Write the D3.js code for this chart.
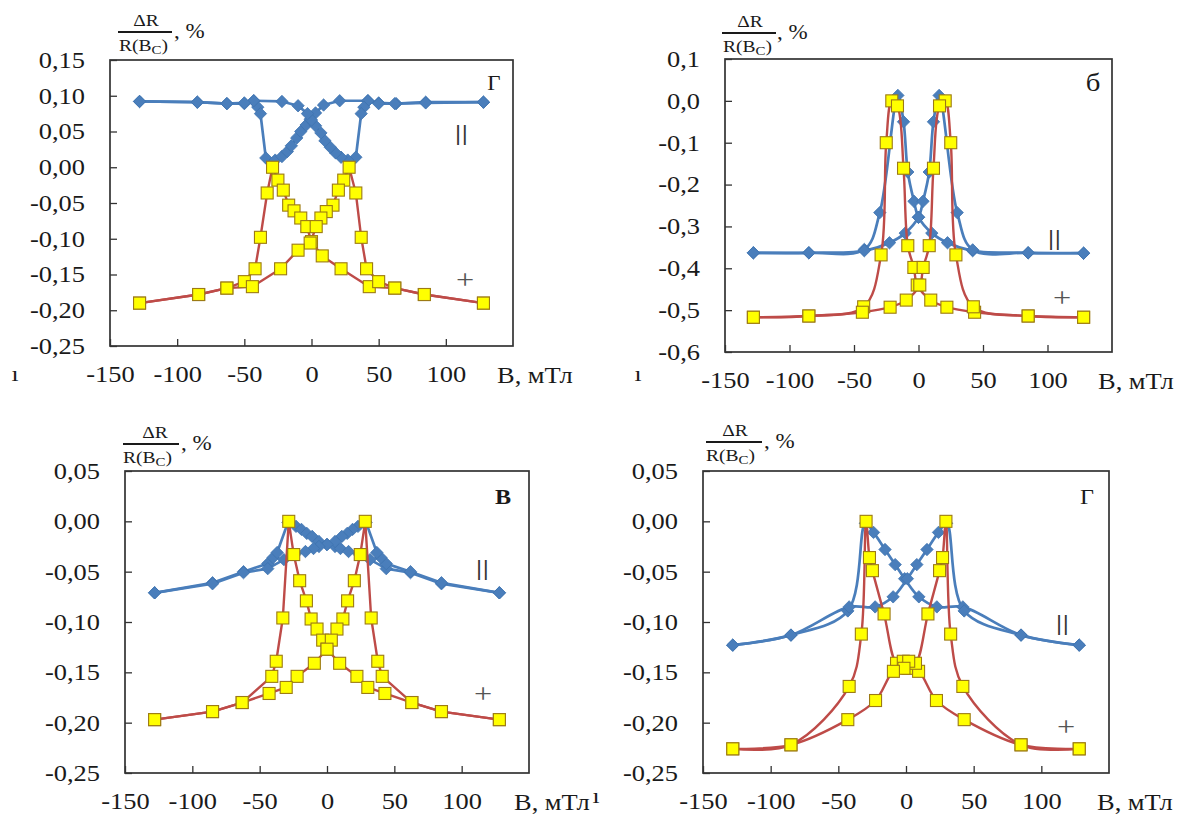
<!DOCTYPE html>
<html><head><meta charset="utf-8">
<script src="https://cdn.jsdelivr.net/npm/d3@7"></script>
<style>body{margin:0;background:#fff} svg{display:block}</style>
</head><body>
<svg id="c" width="1189" height="816"></svg>
<script>
// ---------------- DATA (B, mT ; ΔR/R(Bc), %) ----------------
const xTicks = [-150, -100, -50, 0, 50, 100];
const yTicksA = [0.15, 0.10, 0.05, 0.00, -0.05, -0.10, -0.15, -0.20, -0.25];
const yTicksB = [0.1, 0.0, -0.1, -0.2, -0.3, -0.4, -0.5, -0.6];
const yTicksC = [0.05, 0.00, -0.05, -0.10, -0.15, -0.20, -0.25];
const yTicksD = [0.05, 0.00, -0.05, -0.10, -0.15, -0.20, -0.25];

// panel а
const a_par_fwd = [[-128,0.092],[-85,0.091],[-63,0.089],[-50,0.089],[-43,0.093],[-40,0.084],[-38,0.075],[-34,0.013],[-27,0.010],[-22,0.015],[-18,0.022],[-15,0.030],[-11,0.041],[-8,0.050],[-4,0.059],[-1,0.067],[3,0.076],[9,0.087],[21,0.093],[42,0.093],[50,0.090],[63,0.089],[85,0.091],[128,0.091]];
const a_par_rev = [[128,0.091],[85,0.090],[62,0.089],[50,0.089],[42,0.093],[39,0.084],[37,0.075],[33,0.014],[27,0.010],[22,0.014],[18,0.020],[14,0.028],[10,0.037],[7,0.048],[3,0.058],[0,0.066],[-3,0.075],[-10,0.086],[-22,0.092],[-43,0.093],[-50,0.090],[-63,0.089],[-85,0.091],[-128,0.092]];
const a_perp_fwd = [[-128,-0.190],[-84,-0.178],[-63,-0.169],[-50,-0.160],[-42,-0.142],[-38,-0.098],[-33,-0.036],[-29,0.000],[-25,-0.018],[-21,-0.032],[-17,-0.053],[-13,-0.061],[-8,-0.071],[-3.5,-0.083],[0,-0.104],[8,-0.124],[22,-0.142],[43,-0.167],[62,-0.169],[84,-0.178],[128,-0.190]];
const a_perp_rev = [[128,-0.190],[84,-0.178],[62,-0.169],[50,-0.160],[41,-0.142],[37,-0.098],[33,-0.036],[28,0.000],[24,-0.018],[20,-0.032],[16,-0.053],[11,-0.062],[7,-0.071],[3.5,-0.083],[-1,-0.106],[-10,-0.116],[-23,-0.142],[-44,-0.167],[-63,-0.169],[-84,-0.178],[-128,-0.190]];

// panel б
const b_par_fwd = [[-128,-0.363],[-85,-0.363],[-42,-0.355],[-30,-0.267],[-16,0.013],[-11.6,-0.050],[-8.3,-0.170],[-3.5,-0.240],[0,-0.278],[10.3,-0.316],[22.5,-0.339],[42,-0.358],[85,-0.363],[128,-0.364]];
const b_par_rev = [[128,-0.364],[85,-0.363],[42,-0.356],[30,-0.267],[16,0.013],[11.6,-0.050],[8.3,-0.170],[3.5,-0.240],[0,-0.278],[-10.3,-0.316],[-22.5,-0.339],[-42,-0.358],[-85,-0.363],[-128,-0.363]];
const b_perp_fwd = [[-128,-0.517],[-85,-0.514],[-42.5,-0.492],[-29,-0.368],[-25,-0.100],[-20.7,0.000],[-16.3,-0.012],[-11.6,-0.161],[-8.3,-0.346],[-3.6,-0.398],[-1,-0.440],[9.5,-0.476],[22,-0.493],[43.5,-0.505],[85,-0.514],[128,-0.517]];
const b_perp_rev = [[128,-0.517],[85,-0.514],[42.5,-0.492],[29,-0.368],[25,-0.100],[20.7,0.000],[16.3,-0.012],[11.6,-0.161],[8.3,-0.346],[3.6,-0.398],[1,-0.440],[-9.5,-0.476],[-22,-0.493],[-43.5,-0.505],[-85,-0.514],[-128,-0.517]];

// panel в
const c_par_fwd = [[-128,-0.071],[-85,-0.061],[-62,-0.050],[-44,-0.042],[-40,-0.036],[-37,-0.031],[-29,-0.001],[-23,-0.005],[-19,-0.008],[-15,-0.012],[-11,-0.015],[-6,-0.020],[0,-0.023],[6,-0.025],[10,-0.027],[16,-0.030],[24,-0.033],[32,-0.038],[44,-0.047],[62,-0.051],[85,-0.062],[128,-0.071]];
const c_par_rev = [[128,-0.071],[85,-0.061],[62,-0.050],[44,-0.042],[40,-0.036],[37,-0.031],[29,-0.001],[23,-0.005],[19,-0.008],[15,-0.012],[11,-0.015],[6,-0.020],[0,-0.023],[-6,-0.025],[-10,-0.027],[-16,-0.030],[-24,-0.033],[-32,-0.038],[-44,-0.047],[-62,-0.051],[-85,-0.062],[-128,-0.071]];
const c_perp_fwd = [[-128,-0.197],[-85,-0.189],[-63,-0.180],[-41,-0.154],[-37.7,-0.139],[-32.8,-0.096],[-28.4,0.000],[-24.7,-0.033],[-20.3,-0.059],[-15.3,-0.079],[-11.8,-0.097],[-7.4,-0.107],[-3.2,-0.118],[0,-0.127],[9.4,-0.141],[22.2,-0.154],[30.3,-0.165],[43,-0.171],[63,-0.180],[85,-0.189],[128,-0.197]];
const c_perp_rev = [[128,-0.197],[85,-0.189],[63,-0.180],[41,-0.154],[37.7,-0.139],[32.8,-0.096],[28.4,0.000],[24.7,-0.033],[20.3,-0.059],[15.3,-0.079],[11.8,-0.097],[7.4,-0.107],[3.2,-0.118],[0,-0.127],[-9.4,-0.141],[-22.2,-0.154],[-30.3,-0.165],[-43,-0.171],[-63,-0.180],[-85,-0.189],[-128,-0.197]];

// panel г
const d_par_fwd = [[-128,-0.123],[-85,-0.113],[-43,-0.089],[-30,-0.002],[-24,-0.011],[-15.5,-0.028],[-8,-0.043],[-1,-0.057],[9.5,-0.075],[22.8,-0.085],[42,-0.085],[85,-0.113],[128,-0.123]];
const d_par_rev = [[128,-0.123],[85,-0.113],[43,-0.089],[30,-0.002],[24,-0.011],[15.5,-0.028],[8,-0.043],[1,-0.057],[-9.5,-0.075],[-22.8,-0.085],[-42,-0.085],[-85,-0.113],[-128,-0.123]];
const d_perp_fwd = [[-128,-0.226],[-85,-0.222],[-42,-0.164],[-33,-0.112],[-29.5,0.000],[-27,-0.036],[-24.8,-0.049],[-16.2,-0.092],[-7,-0.141],[-2,-0.139],[1.5,-0.146],[9.3,-0.149],[22.5,-0.178],[43,-0.197],[85,-0.222],[128,-0.226]];
const d_perp_rev = [[128,-0.226],[85,-0.222],[42,-0.164],[33,-0.112],[29.5,0.000],[27,-0.036],[24.8,-0.049],[16.2,-0.092],[7,-0.141],[2,-0.139],[-1.5,-0.146],[-9.3,-0.149],[-22.5,-0.178],[-43,-0.197],[-85,-0.222],[-128,-0.226]];

const panelTags = ["Г", "б", "В", "Г"];
const xTitle = "B, мТл";

// ---------------- LAYOUT / STYLE ----------------
const FONT = "Liberation Serif";
const SX = 1.15;          // horizontal stretch of the original typography
const BLUE = "#4a7ebb", RED = "#be4b48", YEL = "#ffff00", YEL_STROKE = "#9c7a14";

const panels = [
  {box:[110,513,60,346], yDom:[-0.25,0.15], yTicks:yTicksA, dec:2, smooth:false, par:[a_par_fwd,a_par_rev], perp:[a_perp_fwd,a_perp_rev],
   frac:{cx:146, ly:32, lx0:118, lx1:172, rx:119, pctX:174}, tag:{x:494,y:84,size:20,bold:false}, bars:{x:462,y:133}, plus:{x:465,y:280}, unitX:497, frag:{x:15,y:381}},
  {box:[725,1112,59,352], yDom:[-0.6,0.1], yTicks:yTicksB, dec:1, smooth:true, par:[b_par_fwd,b_par_rev], perp:[b_perp_fwd,b_perp_rev],
   frac:{cx:750, ly:33, lx0:722, lx1:776, rx:723, pctX:777}, tag:{x:1093,y:83,size:25,bold:false}, bars:{x:1055,y:238}, plus:{x:1062,y:298}, unitX:1098, frag:{x:638,y:381}},
  {box:[125,529,471,773], yDom:[-0.25,0.05], yTicks:yTicksC, dec:2, smooth:false, par:[c_par_fwd,c_par_rev], perp:[c_perp_fwd,c_perp_rev],
   frac:{cx:155, ly:444, lx0:123, lx1:179, rx:123, pctX:181}, tag:{x:503,y:497,size:21,bold:true}, bars:{x:483,y:568}, plus:{x:483,y:694}, unitX:514, frag:null},
  {box:[703,1109,471,773], yDom:[-0.25,0.05], yTicks:yTicksD, dec:2, smooth:true, par:[d_par_fwd,d_par_rev], perp:[d_perp_fwd,d_perp_rev],
   frac:{cx:735, ly:442, lx0:706, lx1:762, rx:706, pctX:764}, tag:{x:1087,y:497,size:21,bold:false}, bars:{x:1063,y:623}, plus:{x:1066,y:727}, unitX:1097, frag:{x:596,y:803}}
];

const svg = d3.select("#c");
svg.append("rect").attr("width",1189).attr("height",816).attr("fill","#fff");

function fmt(v, dec){
  const s = Math.abs(v).toFixed(dec).replace(".", ",");
  return (v < -1e-9 ? "-" : "") + s;
}
function stretchedText(g, x, y, str, size, anchor, extra){
  const t = g.append("text")
    .attr("transform", `translate(${x},${y}) scale(${SX},1)`)
    .attr("text-anchor", anchor || "start")
    .style("font-family", FONT).attr("font-size", size)
    .attr("fill", "#1a1a1a").text(str);
  if (extra) extra(t);
  return t;
}

const diamond = "M0,-6.2L6.2,0L0,6.2L-6.2,0Z";

panels.forEach((p, i) => {
  const [x0,x1,y0,y1] = p.box;
  const g = svg.append("g");
  const x = d3.scaleLinear().domain([-150,150]).range([x0,x1]);
  const y = d3.scaleLinear().domain(p.yDom).range([y1,y0]);

  // frame
  g.append("rect").attr("x",x0).attr("y",y0).attr("width",x1-x0).attr("height",y1-y0)
    .attr("fill","none").attr("stroke","#333").attr("stroke-width",1.7);

  // axes (ticks pointing inward)
  const ya = g.append("g").attr("transform",`translate(${x0},0)`)
    .call(d3.axisLeft(y).tickValues(p.yTicks).tickSize(-7).tickPadding(25).tickFormat(v => fmt(v,p.dec)));
  ya.select(".domain").remove();
  ya.selectAll("line").attr("stroke","#333").attr("stroke-width",1.3);
  ya.selectAll("text").style("font-family",FONT).attr("font-size",23).attr("fill","#1a1a1a")
    .attr("x", -25/SX).attr("transform",`scale(${SX},1)`);

  const xa = g.append("g").attr("transform",`translate(0,${y1})`)
    .call(d3.axisBottom(x).tickValues(xTicks).tickSize(-7).tickPadding(20).tickFormat(v => String(v)));
  xa.select(".domain").remove();
  xa.selectAll("line").attr("stroke","#333").attr("stroke-width",1.3);
  xa.selectAll("text").style("font-family",FONT).attr("font-size",23).attr("fill","#1a1a1a")
    .attr("transform",`scale(${SX},1)`);

  // x-axis title
  stretchedText(g, p.unitX, y1+37, xTitle, 23, "start");
  if (p.frag) stretchedText(g, p.frag.x, p.frag.y, "ı", 22, "middle");

  // y-axis title (fraction)
  const f = p.frac;
  stretchedText(g, f.cx, f.ly-6, "ΔR", 17, "middle");
  g.append("line").attr("x1",f.lx0).attr("x2",f.lx1).attr("y1",f.ly).attr("y2",f.ly)
    .attr("stroke","#1a1a1a").attr("stroke-width",1.8);
  stretchedText(g, f.rx, f.ly+19, "", 17, "start", t => {
    t.append("tspan").text("R(B");
    t.append("tspan").attr("font-size",13).attr("dy",3).text("C");
    t.append("tspan").attr("dy",-3).text(")");
  });
  stretchedText(g, f.pctX, f.ly+6, ", %", 20, "start");

  // series
  const line = d3.line().x(d => x(d[0])).y(d => y(d[1]))
    .curve(p.smooth ? d3.curveCatmullRom.alpha(0.5) : d3.curveLinear);

  p.par.forEach(s => {
    g.append("path").attr("d", line(s)).attr("fill","none").attr("stroke",BLUE)
      .attr("stroke-width",2.7).attr("stroke-linejoin","round");
  });
  p.par.forEach(s => {
    g.selectAll(null).data(s).enter().append("path").attr("d",diamond)
      .attr("transform", d => `translate(${x(d[0])},${y(d[1])})`)
      .attr("fill",BLUE).attr("stroke","#3f73b0").attr("stroke-width",0.8);
  });
  p.perp.forEach(s => {
    g.append("path").attr("d", line(s)).attr("fill","none").attr("stroke",RED)
      .attr("stroke-width",2.4).attr("stroke-linejoin","round");
  });
  p.perp.forEach(s => {
    g.selectAll(null).data(s).enter().append("rect")
      .attr("x", d => x(d[0]) - 6).attr("y", d => y(d[1]) - 6)
      .attr("width",12).attr("height",12)
      .attr("fill",YEL).attr("stroke",YEL_STROKE).attr("stroke-width",1.1);
  });

  // panel letter and curve marks
  stretchedText(g, p.tag.x, p.tag.y, panelTags[i], p.tag.size, "middle",
    t => t.attr("dominant-baseline","central").attr("font-weight", p.tag.bold ? "bold" : "normal"));
  stretchedText(g, p.bars.x, p.bars.y, "||", 22, "middle",
    t => t.attr("dominant-baseline","central").attr("letter-spacing",1).attr("font-weight","bold").attr("fill","#333"));
  stretchedText(g, p.plus.x, p.plus.y, "+", 28, "middle",
    t => t.attr("dominant-baseline","central").attr("fill","#555"));
});
</script></body></html>
